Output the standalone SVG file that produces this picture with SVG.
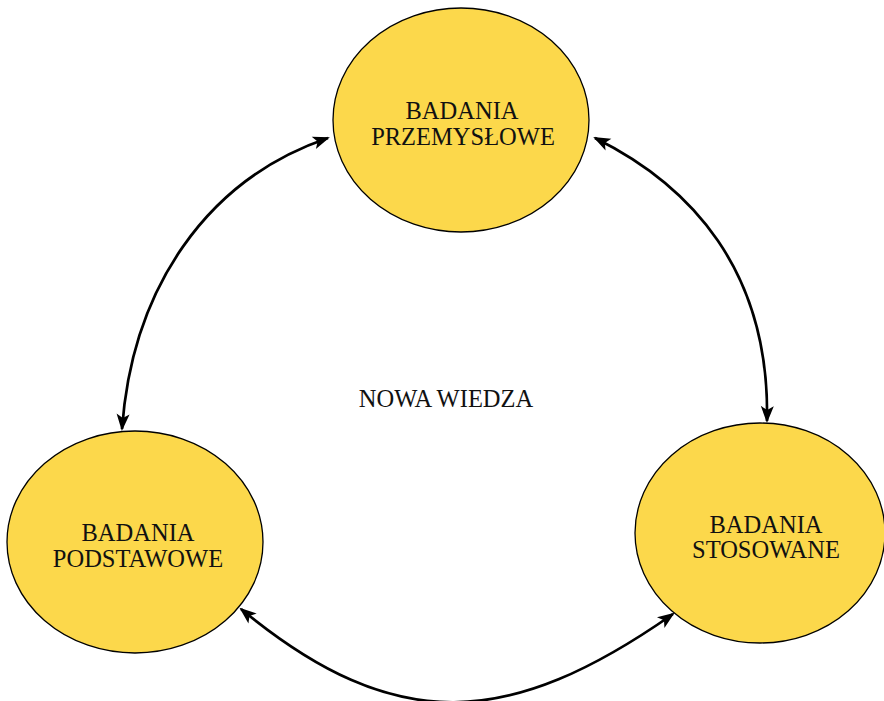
<svg xmlns="http://www.w3.org/2000/svg" width="884" height="701" viewBox="0 0 884 701">
<style>
.node ellipse{fill:#FCD84B;stroke:#000;stroke-width:1.3}
.node text,.lbl{font-family:"Liberation Serif","Times New Roman",serif;font-size:24.5px;fill:#111;text-anchor:middle}
.edge{fill:none;stroke:#000;stroke-width:2.7}
</style>
<defs>
<marker id="ah" markerUnits="userSpaceOnUse" markerWidth="30" markerHeight="30" refX="0" refY="0" viewBox="-20 -10 30 20" orient="auto-start-reverse" overflow="visible">
<path d="M2,0 L-15,-6.5 L-11,0 L-15,6.5 Z" fill="#000"/>
</marker>
</defs>
<rect width="884" height="701" fill="#fff"/>
<g id="connectors">
<path class="edge" d="M122,429 C132,290 205,180 328,138" marker-start="url(#ah)" marker-end="url(#ah)"/>
<path class="edge" d="M595,138 C690,185 770,270 767,421" marker-start="url(#ah)" marker-end="url(#ah)"/>
<path class="edge" d="M241,609 C396,737 510,728 673,614" marker-start="url(#ah)" marker-end="url(#ah)"/>
</g>
<g id="n-przemyslowe" class="node">
<ellipse cx="461" cy="120" rx="128" ry="112"/>
<text x="462" y="119">BADANIA</text>
<text x="463" y="145">PRZEMYSŁOWE</text>
</g>
<g id="n-podstawowe" class="node">
<ellipse cx="135" cy="542" rx="128" ry="111"/>
<text x="138" y="541">BADANIA</text>
<text x="138" y="567">PODSTAWOWE</text>
</g>
<g id="n-stosowane" class="node">
<ellipse cx="760" cy="533" rx="125" ry="110"/>
<text x="766" y="533">BADANIA</text>
<text x="766" y="558">STOSOWANE</text>
</g>
<g id="n-nowa-wiedza">
<text class="lbl" x="446" y="407">NOWA WIEDZA</text>
</g>
</svg>
